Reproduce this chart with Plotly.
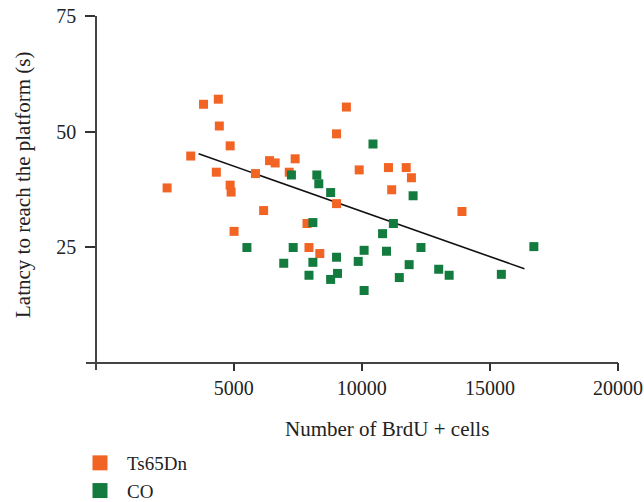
import plotly.graph_objects as go

# Ts65Dn group (orange)
ts_x = [3819, 4396, 4435, 4858, 3319, 4319, 2396, 4858, 4896, 6165, 5011, 5846,
        6396, 6615, 7396, 7165, 9396, 9012, 9896, 11038, 11731, 11935, 11165,
        9012, 13908, 7858, 7935, 8358]
ts_y = [55.9, 57.0, 51.2, 46.9, 44.7, 41.2, 37.8, 38.4, 36.9, 32.9, 28.4, 40.9,
        43.7, 43.2, 44.1, 41.2, 55.3, 49.5, 41.7, 42.2, 42.2, 40.0, 37.4,
        34.4, 32.7, 30.1, 24.9, 23.6]

# CO group (green)
co_x = [5512, 7250, 8242, 8319, 8781, 12000, 10435, 8088, 11231, 10808, 7319,
        12308, 10088, 10962, 9012, 6950, 8088, 9858, 11846, 7935, 9050, 8781,
        11462, 13000, 13408, 10088, 16715, 15446]
co_y = [24.9, 40.6, 40.6, 38.7, 36.8, 36.1, 47.3, 30.3, 30.1, 27.9, 24.9,
        24.9, 24.3, 24.1, 22.8, 21.5, 21.7, 21.9, 21.2, 18.9, 19.3, 18.0,
        18.4, 20.2, 18.9, 15.6, 25.1, 19.1]

# Trend line end points
trend_x = [3627, 16346]
trend_y = [45.2, 20.3]

x_ticks = [5000, 10000, 15000, 20000]
y_ticks = [25, 50, 75]

ORANGE = "#F26423"
GREEN = "#137B3E"
FONT = "Liberation Serif"
TXT = "#222222"

fig = go.Figure()
fig.add_trace(go.Scatter(x=trend_x, y=trend_y, mode="lines",
                         line=dict(color="#111111", width=1.6),
                         showlegend=False, hoverinfo="skip"))
fig.add_trace(go.Scatter(x=ts_x, y=ts_y, mode="markers", name="Ts65Dn",
                         marker=dict(symbol="square", size=9, color=ORANGE,
                                     line=dict(width=0)),
                         showlegend=False))
fig.add_trace(go.Scatter(x=co_x, y=co_y, mode="markers", name="CO",
                         marker=dict(symbol="square", size=9, color=GREEN,
                                     line=dict(width=0)),
                         showlegend=False))
# legend entries
fig.add_trace(go.Scatter(x=[None], y=[None], mode="markers", name="Ts65Dn",
                         marker=dict(symbol="square", size=15, color=ORANGE)))
fig.add_trace(go.Scatter(x=[None], y=[None], mode="markers", name="CO",
                         marker=dict(symbol="square", size=15, color=GREEN)))

W, H = 644, 502
L, T, B = 86, 16, 132
xr = [-770, 20000]
pw = 531.7
R = W - L - pw
ph = H - T - B
yr = [-1.6, 75]

fig.update_layout(
    width=W, height=H,
    margin=dict(l=L, r=R, t=T, b=B, pad=0, autoexpand=False),
    paper_bgcolor="white", plot_bgcolor="white",
    font=dict(family=FONT, size=20, color=TXT),
    xaxis=dict(range=xr, tickvals=x_ticks, ticktext=[str(v) for v in x_ticks],
               showgrid=False, zeroline=False, showline=True,
               linecolor="#444444", linewidth=1.5,
               ticks="outside", ticklen=8, tickwidth=1.5, tickcolor="#333333",
               anchor="free", position=(0 - yr[0]) / (yr[1] - yr[0]),
               ticklabeloverflow="allow", automargin=False,
               tickfont=dict(family=FONT, size=20, color=TXT)),
    yaxis=dict(range=yr, tickvals=y_ticks,
               showgrid=False, zeroline=False, showline=True,
               linecolor="#444444", linewidth=1.5,
               ticks="outside", ticklen=10, tickwidth=1.5, tickcolor="#333333",
               anchor="free", position=(96 - L) / pw, automargin=False,
               ticklabelstandoff=5,
               tickfont=dict(family=FONT, size=20, color=TXT)),
    legend=dict(x=(73 - L) / pw, y=(T + ph - 444) / ph, xanchor="left",
                yanchor="top", itemwidth=44,
                font=dict(family=FONT, size=19, color=TXT),
                bgcolor="rgba(0,0,0,0)", tracegroupgap=0),
    annotations=[
        dict(text="Number of BrdU + cells", xref="paper", yref="paper",
             x=(387 - L) / pw, y=(T + ph - 429) / ph, xanchor="center",
             yanchor="middle", showarrow=False,
             font=dict(family=FONT, size=21, color=TXT)),
        dict(text="Latncy to reach the platform (s)", xref="paper", yref="paper",
             x=(23 - L) / pw, y=(T + ph - 185) / ph, xanchor="center",
             yanchor="middle", textangle=-90, showarrow=False,
             font=dict(family=FONT, size=21, color=TXT)),
    ],
)

fig.write_html(
    "out.html",
    config={"displayModeBar": False},
    post_script="document.body.style.margin='0';"
                "document.body.style.overflow='hidden';",
)
